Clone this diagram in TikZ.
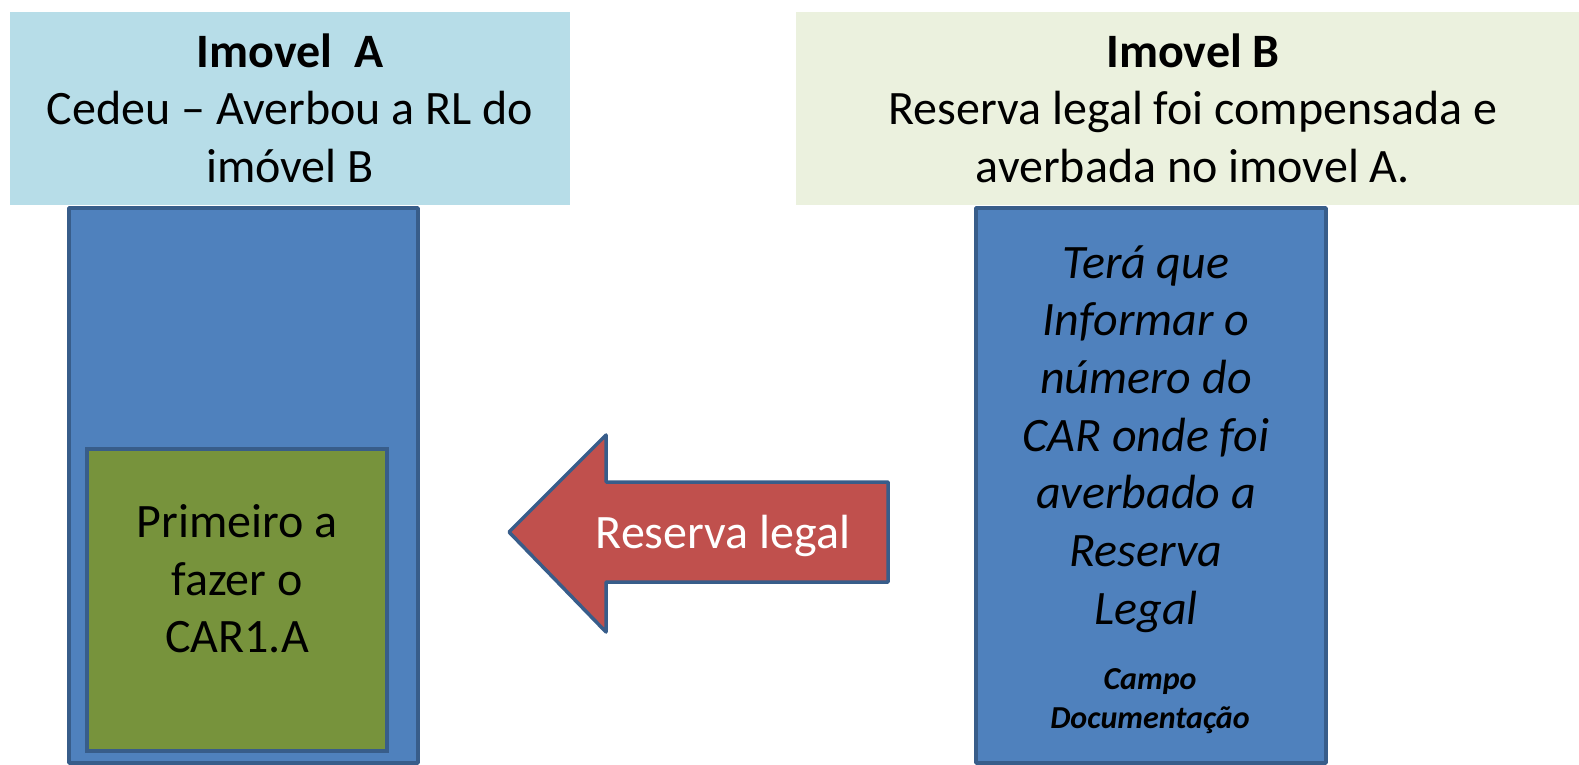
\documentclass[tikz,border=0pt]{standalone}
\usepackage{fontspec}
\setmainfont{Carlito}
\definecolor{headA}{RGB}{183, 221, 232}
\definecolor{headB}{RGB}{235, 241, 222}
\definecolor{boxblue}{RGB}{79, 129, 189}
\definecolor{edgeblue}{RGB}{56, 93, 138}
\definecolor{boxgreen}{RGB}{119, 147, 60}
\definecolor{arrowred}{RGB}{192, 80, 77}
\usetikzlibrary{positioning}
\tikzset{
  bigtext/.style={align=center, inner sep=0pt, font=\fontsize{48}{57.5}\selectfont},
  smalltext/.style={align=center, inner sep=0pt, font=\fontsize{32}{38.5}\selectfont\bfseries\itshape},
  panel/.style={fill=boxblue, draw=edgeblue, line width=3.5pt, line join=round}
}

\begin{document}
\begin{tikzpicture}[x=1pt, y=-1pt]
  \useasboundingbox (0, 0) rectangle (1579, 765);
  % headers
  \fill[headA] (10, 12) rectangle (570, 205);
  \fill[headB] (796, 12) rectangle (1579, 205);
  \node[bigtext] (titleA) at (290, 108) {\textbf{Imovel\ \ A}\\Cedeu -- Averbou a RL do\\imóvel B};
  \node[bigtext] (titleB) at (1193, 108) {\textbf{Imovel B}\\Reserva legal foi compensada e\\averbada no imovel A.};
  % left property
  \draw[panel] (69, 208) rectangle (418, 763);
  \draw[fill=boxgreen, draw=edgeblue, line width=3.5pt] (87, 449) rectangle (387, 751);
  \node[bigtext] (first) at (237, 579) {Primeiro a\\fazer o\\CAR1.A};
  % right property
  \draw[panel] (976, 208) rectangle (1326, 763);
  \node[bigtext, font=\fontsize{48}{57.7}\selectfont\itshape] (inform) at (1146, 439)
    {Terá que\\Informar o\\número do\\CAR onde foi\\averbado a\\Reserva\\Legal};
  \node[smalltext] (campo) at (1150, 701) {Campo\\Documentação};
  % arrow
  \draw[fill=arrowred, draw=edgeblue, line width=3.5pt, line join=round]
    (509, 532) -- (606, 435) -- (606, 482) -- (888, 482) -- (888, 582)
    -- (606, 582) -- (606, 632) -- cycle;
  \node[bigtext, white] (reserva) at (723, 536) {Reserva legal};
\end{tikzpicture}
\end{document}
